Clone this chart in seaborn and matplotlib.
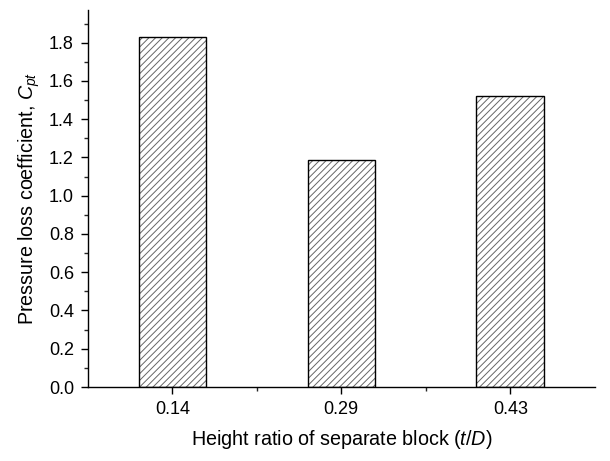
import matplotlib
matplotlib.use("Agg")
import matplotlib.pyplot as plt
import seaborn as sns
import pandas as pd
import numpy as np
from matplotlib.ticker import MultipleLocator

categories = ["0.14", "0.29", "0.43"]
values = [1.83, 1.188, 1.52]

sns.set_style("ticks")
plt.rcParams['font.family'] = ['Liberation Sans', 'DejaVu Sans']
plt.rcParams['mathtext.fontset'] = 'custom'
plt.rcParams['mathtext.it'] = 'Liberation Sans:italic'
plt.rcParams['mathtext.rm'] = 'Liberation Sans'
plt.rcParams['hatch.linewidth'] = 0.7

df = pd.DataFrame({"ratio": categories, "cpt": values})

fig = plt.figure(figsize=(6.10, 4.61), dpi=100)
ax = fig.add_axes([0.144, 0.1605, 0.831, 0.8175])

sns.barplot(data=df, x="ratio", y="cpt", ax=ax, color="white", width=0.4,
            edgecolor="#666666", linewidth=0, hatch="/////", errorbar=None)
sns.barplot(data=df, x="ratio", y="cpt", ax=ax, fill=False, width=0.4,
            edgecolor="black", linewidth=1.0, errorbar=None)

ax.set_xlim(-0.5, 2.5)
ax.set_ylim(0, 1.97)
ax.yaxis.set_major_locator(MultipleLocator(0.2))
ax.yaxis.set_minor_locator(MultipleLocator(0.1))
ax.yaxis.set_major_formatter(matplotlib.ticker.FormatStrFormatter('%.1f'))
ax.set_xticks([0.5, 1.5], minor=True)
sns.despine(ax=ax)
for s in ["left", "bottom"]:
    ax.spines[s].set_linewidth(1.0)
    ax.spines[s].set_color("black")
ax.tick_params(axis="both", which="major", direction="out", length=5, width=1.0,
               labelsize=13, colors="black", pad=5)
ax.tick_params(axis="both", which="minor", direction="out", length=3, width=1.0)
ax.set_xlabel("Height ratio of separate block ($\\it{t}$/$\\it{D}$)", fontsize=14.2,
              labelpad=7, color="black")
ax.set_ylabel("Pressure loss coefficient, $\\it{C}_{\\it{pt}}$", fontsize=14.2,
              labelpad=5, color="black")

fig.savefig("out.png", dpi=100)
